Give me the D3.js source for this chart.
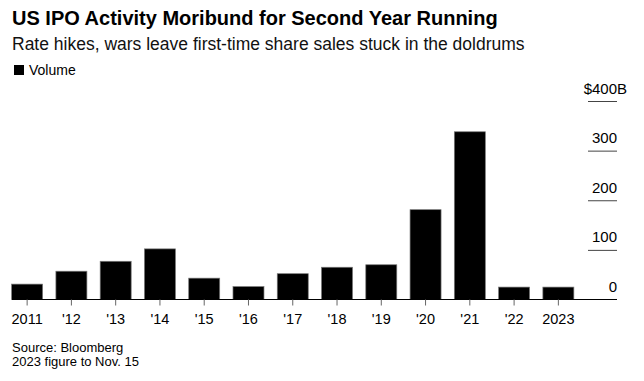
<!DOCTYPE html>
<html>
<head>
<meta charset="utf-8">
<script src="https://cdn.jsdelivr.net/npm/d3@7"></script>
<style>
  html, body { margin: 0; padding: 0; background: #fff; }
  svg { display: block; font-family: "Liberation Sans", Arial, sans-serif; }
</style>
</head>
<body>
<svg id="chart" width="644" height="381"></svg>
<script>
const categories = ["2011", "'12", "'13", "'14", "'15", "'16", "'17", "'18", "'19", "'20", "'21", "'22", "2023"];
const volume = [31, 57, 77, 102, 43, 26, 52, 65, 70, 181, 338, 25, 25];
const yTicks = [0, 100, 200, 300, 400];
const title = "US IPO Activity Moribund for Second Year Running";
const subtitle = "Rate hikes, wars leave first-time share sales stuck in the doldrums";
const legendLabel = "Volume";
const notes = ["Source: Bloomberg", "2023 figure to Nov. 15"];

const svg = d3.select("#chart");

svg.append("text").attr("x", 12).attr("y", 25)
  .attr("font-size", 20).attr("font-weight", "bold").attr("fill", "#000").text(title);
svg.append("text").attr("x", 12).attr("y", 50)
  .attr("font-size", 17.5).attr("fill", "#111").text(subtitle);

svg.append("rect").attr("x", 14).attr("y", 65).attr("width", 10).attr("height", 10).attr("fill", "#000");
svg.append("text").attr("x", 29).attr("y", 75).attr("font-size", 14).attr("fill", "#000").text(legendLabel);

const x = d3.scaleBand().domain(categories).range([5, 580.5]).paddingInner(0.3).paddingOuter(0.15);
const y = d3.scaleLinear().domain([0, 400]).range([299.5, 101]);

// right y axis
const yAxis = svg.append("g").attr("transform", "translate(617,0)")
  .call(d3.axisLeft(y).tickValues(yTicks).tickSize(29).tickPadding(0)
    .tickFormat(d => d === 400 ? "$" + d : d));
yAxis.select(".domain").remove();
yAxis.selectAll(".tick line").attr("stroke", "#444");
yAxis.selectAll(".tick text")
  .attr("x", 0).attr("dy", null).attr("y", -8)
  .attr("text-anchor", "end").attr("font-size", 15).attr("font-family", null).attr("fill", "#000");
yAxis.selectAll(".tick").filter(d => d === 0).select("line").remove();
yAxis.selectAll(".tick").filter(d => d === 400).append("text")
  .attr("x", 0).attr("y", -8).attr("text-anchor", "start")
  .attr("font-size", 15).attr("fill", "#000").text("B");

// bars
svg.append("g").selectAll("rect").data(volume).join("rect")
  .attr("x", (d, i) => x(categories[i]))
  .attr("width", x.bandwidth())
  .attr("y", d => y(d))
  .attr("height", d => y(0) - y(d))
  .attr("fill", "#000")
  .attr("stroke", "#777").attr("stroke-width", 0.7);

// baseline
svg.append("line").attr("x1", 12).attr("x2", 617).attr("y1", y(0)).attr("y2", y(0))
  .attr("stroke", "#000").attr("stroke-width", 1.2);

// x axis
const xAxis = svg.append("g").attr("transform", `translate(0,${y(0)})`)
  .call(d3.axisBottom(x).tickSize(6).tickPadding(8.5));
xAxis.select(".domain").remove();
xAxis.selectAll(".tick line").attr("stroke", "#666");
xAxis.selectAll(".tick text").attr("font-size", 14.5).attr("font-family", null).attr("fill", "#000");

// notes
svg.selectAll("text.note").data(notes).join("text").attr("class", "note")
  .attr("x", 12).attr("y", (d, i) => 351.5 + i * 14.5)
  .attr("font-size", 13).attr("fill", "#000").text(d => d);
</script>
</body>
</html>
